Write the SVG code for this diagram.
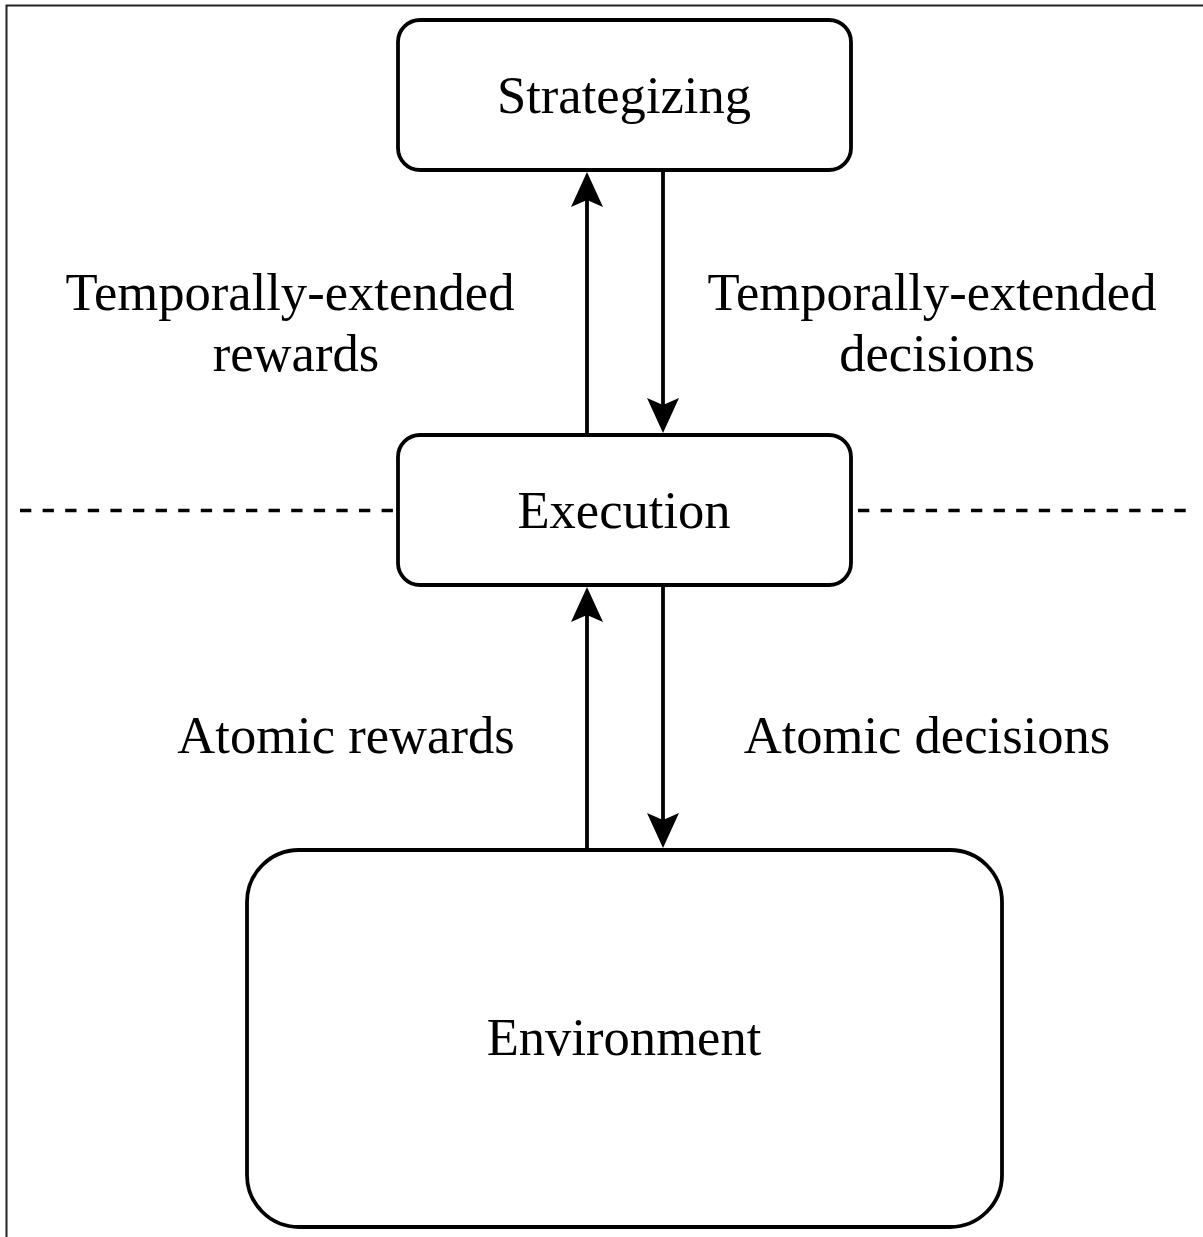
<svg xmlns="http://www.w3.org/2000/svg" width="1203" height="1237" viewBox="0 0 1203 1237">
  <style>
    .box { fill: #ffffff; stroke: #000000; stroke-width: 3.8; }
    .label { font-family: "Liberation Serif", "Times New Roman", serif; font-size: 52.6px; fill: #000000; text-anchor: middle; }
    .link { stroke: #000000; stroke-width: 3.8; fill: none; marker-end: url(#head); }
    .divider { stroke: #000000; stroke-width: 3.6; stroke-dasharray: 11.3 11.3; fill: none; }
    .frame { stroke: #222222; stroke-width: 2; fill: none; }
  </style>
  <defs>
    <marker id="head" markerUnits="userSpaceOnUse" markerWidth="40" markerHeight="36" refX="7" refY="17" orient="auto" overflow="visible">
      <path d="M0,1 L35,17 L0,33 L7,17 Z" fill="#000000"/>
    </marker>
  </defs>

  <rect width="1203" height="1237" fill="#ffffff"/>

  <!-- outer frame edges -->
  <path class="frame" d="M6.5,1237 L6.5,5.5 L1203,5.5"/>

  <!-- level divider -->
  <g id="divider">
    <path class="divider" d="M20,510.5 L396,510.5"/>
    <path class="divider" d="M858,510.5 L1190,510.5"/>
  </g>

  <g id="connectors">
    <path class="link" d="M587,435 L587,200"/>
    <path class="link" d="M663,170 L663,405"/>
    <path class="link" d="M587,850 L587,615"/>
    <path class="link" d="M663,585 L663,820"/>
  </g>

  <g id="strategizing">
    <rect class="box" x="398" y="20" width="453" height="150" rx="22" ry="22"/>
    <text class="label" x="624" y="113">Strategizing</text>
  </g>

  <g id="execution">
    <rect class="box" x="398" y="435" width="453" height="150" rx="22" ry="22"/>
    <text class="label" x="624" y="528">Execution</text>
  </g>

  <g id="environment">
    <rect class="box" x="247" y="850" width="755" height="377" rx="52" ry="52"/>
    <text class="label" x="624" y="1055">Environment</text>
  </g>

  <g id="edge-labels">
    <text class="label" x="290" y="310">Temporally-extended</text>
    <text class="label" x="296" y="371">rewards</text>
    <text class="label" x="932" y="310">Temporally-extended</text>
    <text class="label" x="937" y="371">decisions</text>
    <text class="label" x="346" y="753">Atomic rewards</text>
    <text class="label" x="927" y="753">Atomic decisions</text>
  </g>
</svg>
